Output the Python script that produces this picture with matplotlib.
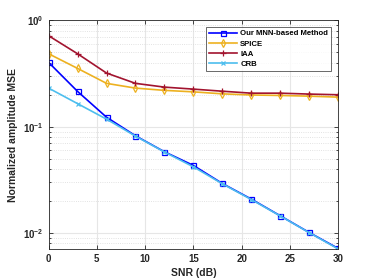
import matplotlib
matplotlib.use("Agg")
import matplotlib.pyplot as plt
from matplotlib.ticker import LogLocator, NullFormatter

snr = [0, 3, 6, 9, 12, 15, 18, 21, 24, 27, 30]
mnn = [0.403, 0.215, 0.123, 0.0823, 0.0582, 0.0433, 0.0293, 0.0209, 0.01456, 0.01014, 0.00718]
spice = [0.486, 0.354, 0.256, 0.231, 0.220, 0.213, 0.204, 0.199, 0.197, 0.194, 0.190]
iaa = [0.718, 0.486, 0.320, 0.256, 0.236, 0.226, 0.216, 0.207, 0.207, 0.203, 0.200]
crb = [0.231, 0.165, 0.118, 0.0817, 0.0579, 0.042, 0.0291, 0.0207, 0.0145, 0.0101, 0.0071]
xticks = [0, 5, 10, 15, 20, 25, 30]

plt.rcParams['font.family'] = ['Liberation Sans', 'DejaVu Sans']
fig = plt.figure(figsize=(3.74, 2.8), dpi=100)
ax = fig.add_axes([0.130, 0.111, 0.774, 0.816])

lw = 1.2
ax.plot(snr, mnn, color='#0000FF', marker='s', ms=3.6, mfc='none', mew=0.9, lw=lw, label='Our MNN-based Method')
ax.plot(snr, spice, color='#EDB120', marker='d', ms=4.2, mfc='none', mew=0.9, lw=lw, label='SPICE')
ax.plot(snr, iaa, color='#A2142F', marker='+', ms=4.5, mew=0.9, lw=lw, label='IAA')
ax.plot(snr, crb, color='#4DBEEE', marker='x', ms=3.0, mew=0.9, lw=lw, label='CRB')

ax.set_yscale('log')
ax.set_xlim(0, 30)
ax.set_ylim(0.0071, 1)
ax.set_xticks(xticks)
ax.yaxis.set_minor_locator(LogLocator(base=10, subs=range(2, 10)))
ax.yaxis.set_minor_formatter(NullFormatter())

ax.grid(True, which='major', color='#e6e6e6', lw=0.8)
ax.grid(True, which='minor', axis='y', color='#d9d9d9', lw=0.6, ls=':')
ax.set_axisbelow(True)

ax.tick_params(which='both', direction='in', top=True, right=True, labelsize=7, colors='#262626', width=0.6)
ax.tick_params(which='major', length=3)
ax.tick_params(which='minor', length=1.5)
for lab in ax.get_xticklabels() + ax.get_yticklabels():
    lab.set_fontweight('bold')
for s in ax.spines.values():
    s.set_color('#262626')
    s.set_linewidth(0.6)

ax.set_xlabel('SNR (dB)', fontsize=7.5, fontweight='bold', color='#262626', labelpad=3)
ax.set_ylabel('Normalized amplitude MSE', fontsize=7.5, fontweight='bold', color='#262626', labelpad=4)

leg = ax.legend(loc='upper right', frameon=True, fancybox=False, edgecolor='#262626',
                borderpad=0.4, labelspacing=0.35, handlelength=3.6, handletextpad=0.4,
                borderaxespad=0.0, bbox_to_anchor=(0.976, 0.972), prop={'weight': 'bold', 'size': 5.6})
leg.get_frame().set_linewidth(0.6)

fig.savefig('out.png', dpi=100)
